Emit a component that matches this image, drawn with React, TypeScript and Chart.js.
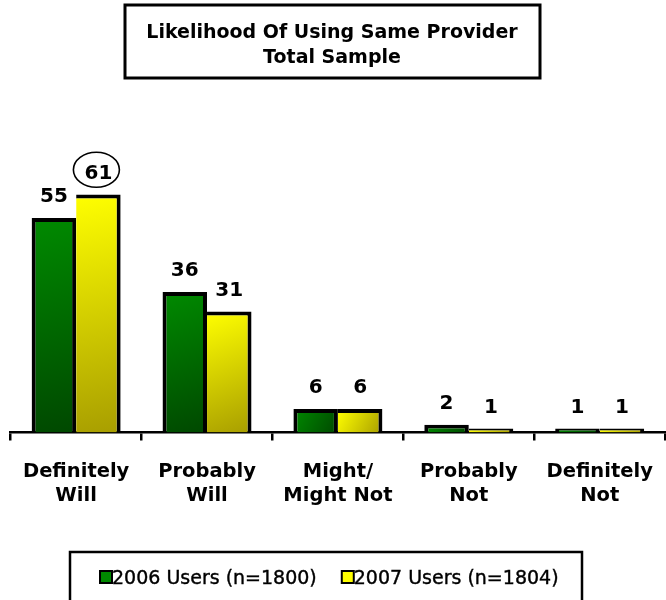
import { useEffect, useRef } from "react";
import { Chart, registerables } from "chart.js";

Chart.register(...registerables);

const categories: string[][] = [
  ["Definitely", "Will"],
  ["Probably", "Will"],
  ["Might/", "Might Not"],
  ["Probably", "Not"],
  ["Definitely", "Not"],
];
const users2006: number[] = [55, 36, 6, 2, 1];
const users2007: number[] = [61, 31, 6, 1, 1];
const seriesNames: string[] = ["2006 Users (n=1800)", "2007 Users (n=1804)"];
const titleLines: string[] = ["Likelihood Of Using Same Provider", "Total Sample"];
const highlight = { dataset: 1, index: 0 };

const GREEN_TOP = "#008a00";
const GREEN_BOTTOM = "#004800";
const YELLOW_TOP = "#ffff00";
const YELLOW_BOTTOM = "#a89e00";
const CAT_PCT = 0.68;

function gradientFor(dsIndex: number, top: string, bottom: string) {
  return (ctx: any) => {
    const chart = ctx.chart;
    if (!chart.chartArea || ctx.type !== "data") return top;
    const xs = chart.scales.x;
    const ys = chart.scales.y;
    const cx = xs.getPixelForValue(ctx.dataIndex);
    const w = ((xs.right - xs.left) / categories.length) * CAT_PCT / 2;
    const x0 = dsIndex === 0 ? cx - w : cx;
    const x1 = x0 + w;
    const y0 = ys.getPixelForValue(ctx.raw);
    const y1 = ys.getPixelForValue(0);
    const g = chart.ctx.createLinearGradient(x0, y0, x1, y1);
    g.addColorStop(0, top);
    g.addColorStop(1, bottom);
    return g;
  };
}

const decorPlugin = {
  id: "decor",
  afterDraw(chart: any) {
    const ctx = chart.ctx;
    ctx.save();
    // Title box
    ctx.strokeStyle = "#000";
    ctx.lineWidth = 3;
    ctx.strokeRect(125, 5, 415, 73);
    ctx.fillStyle = "#000";
    ctx.font = "bold 19px 'DejaVu Sans'";
    ctx.textAlign = "center";
    ctx.textBaseline = "alphabetic";
    ctx.fillText(titleLines[0], 332, 37.5);
    ctx.fillText(titleLines[1], 332, 63);

    // Value labels
    ctx.font = "bold 20px 'DejaVu Sans'";
    chart.data.datasets.forEach((ds: any, di: number) => {
      const meta = chart.getDatasetMeta(di);
      meta.data.forEach((el: any, i: number) => {
        const { x, y } = el.getProps(["x", "y"], true);
        ctx.fillStyle = "#000";
        ctx.fillText(String(ds.data[i]), x, y - 16);
        if (di === highlight.dataset && i === highlight.index) {
          ctx.beginPath();
          ctx.lineWidth = 1.6;
          ctx.ellipse(x - 2, y - 16 - 8.8, 23, 17.5, 0, 0, Math.PI * 2);
          ctx.stroke();
        }
      });
    });

    // Legend box
    ctx.lineWidth = 2.5;
    ctx.strokeRect(70, 552, 512, 60);
    ctx.font = "19px 'DejaVu Sans'";
    ctx.textAlign = "left";
    let lx = 100;
    const colors = [GREEN_TOP, YELLOW_TOP];
    seriesNames.forEach((name, i) => {
      ctx.fillStyle = colors[i];
      ctx.fillRect(lx, 571, 12, 12);
      ctx.lineWidth = 2;
      ctx.strokeStyle = "#000";
      ctx.strokeRect(lx, 571, 12, 12);
      ctx.fillStyle = "#000";
      ctx.fillText(name, lx + 12, 583.5);
      ctx.lineWidth = 0.4;
      ctx.strokeText(name, lx + 12, 583.5);
      lx += 12 + ctx.measureText(name).width + 25;
    });
    ctx.restore();
  },
};

export default function App() {
  const ref = useRef<HTMLCanvasElement | null>(null);
  useEffect(() => {
    document.body.style.margin = "0";
    const canvas = ref.current;
    if (!canvas) return;
    const chart = new Chart(canvas, {
      type: "bar",
      data: {
        labels: categories,
        datasets: [
          {
            label: seriesNames[0],
            data: users2006,
            backgroundColor: gradientFor(0, GREEN_TOP, GREEN_BOTTOM),
            borderColor: "#000",
            borderWidth: 4,
            borderSkipped: "start",
            categoryPercentage: CAT_PCT,
            barPercentage: 1,
          },
          {
            label: seriesNames[1],
            data: users2007,
            backgroundColor: gradientFor(1, YELLOW_TOP, YELLOW_BOTTOM),
            borderColor: "#000",
            borderWidth: { left: 0, top: 4, right: 4, bottom: 0 },
            borderSkipped: "start",
            categoryPercentage: CAT_PCT,
            barPercentage: 1,
          },
        ],
      },
      options: {
        responsive: false,
        animation: false,
        devicePixelRatio: 1,
        layout: { padding: { top: 159.5, left: 10.7, right: 1.3, bottom: 87.5 } },
        plugins: {
          legend: { display: false },
          title: { display: false },
          tooltip: { enabled: false },
        },
        scales: {
          x: {
            grid: {
              display: true,
              drawOnChartArea: false,
              drawTicks: true,
              tickLength: 8,
              color: "#000",
              lineWidth: 2.5,
              offset: true,
            },
            border: { display: true, color: "#000", width: 2.5 },
            ticks: {
              color: "#000",
              font: { family: "'DejaVu Sans'", weight: "bold", size: 19.5, lineHeight: 1.25 },
              padding: 19,
              maxRotation: 0,
              autoSkip: false,
            },
            afterFit: (s: any) => {
              s.height = 80;
            },
          },
          y: { display: false, min: 0, max: 70 },
        },
      },
      plugins: [decorPlugin],
    } as any);
    return () => chart.destroy();
  }, []);
  return (
    <div style={{ position: "absolute", left: 0, top: 0, width: 666, height: 600, overflow: "hidden", background: "#fff" }}>
      <canvas ref={ref} width={672} height={600} style={{ width: 672, height: 600, display: "block" }} />
    </div>
  );
}
